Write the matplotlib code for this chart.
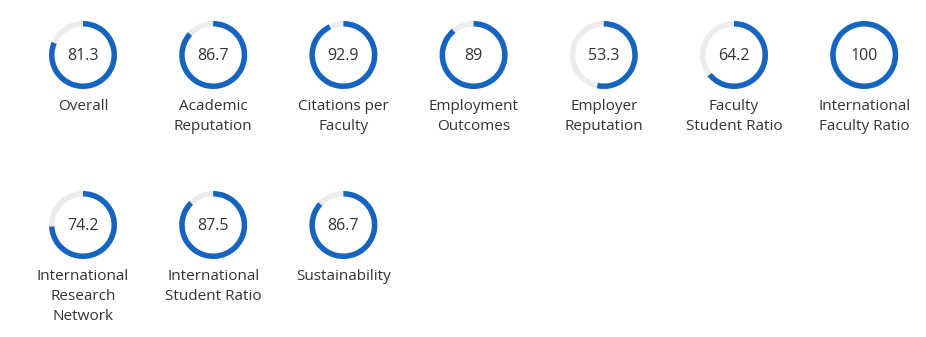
import matplotlib.pyplot as plt
from matplotlib.patches import Wedge

labels = ["Overall", "Academic\nReputation", "Citations per\nFaculty", "Employment\nOutcomes",
          "Employer\nReputation", "Faculty\nStudent Ratio", "International\nFaculty Ratio",
          "International\nResearch\nNetwork", "International\nStudent Ratio", "Sustainability"]
values = [81.3, 86.7, 92.9, 89, 53.3, 64.2, 100, 74.2, 87.5, 86.7]
value_text = ["81.3", "86.7", "92.9", "89", "53.3", "64.2", "100", "74.2", "87.5", "86.7"]

blue = "#1565c0"
grey = "#ececec"

fig = plt.figure(figsize=(9.26, 3.37), dpi=100)
ax = fig.add_axes([0, 0, 1, 1])
ax.set_xlim(0, 926)
ax.set_ylim(337, 0)
ax.set_aspect("equal")
ax.axis("off")

r = 34
w = 5.5
for i, (lab, v, t) in enumerate(zip(labels, values, value_text)):
    col = i % 7
    row = i // 7
    cx = 83 + col * 130.2
    cy = 55 + row * 170
    ax.add_patch(Wedge((cx, cy), r, 0, 360, width=w, color=grey, lw=0))
    # y axis is inverted, so angles run clockwise on screen
    ax.add_patch(Wedge((cx, cy), r, 270, 270 + 360 * v / 100, width=w, color=blue, lw=0))
    ax.text(cx, cy + 1, t, ha="center", va="center", fontsize=11.5, color="#333333",
            family="Open Sans")
    ax.text(cx, cy + 44, lab, ha="center", va="top", fontsize=11, color="#333333",
            family="Open Sans", linespacing=1.45)

fig.savefig("out.png", dpi=100)
